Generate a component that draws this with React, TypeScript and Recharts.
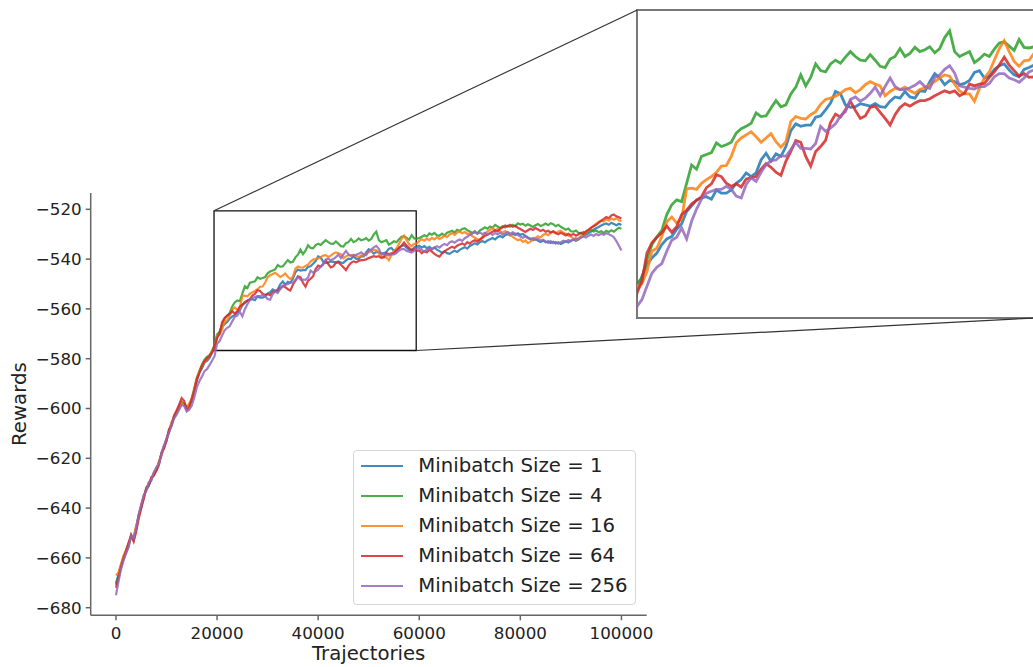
import React from 'react';
import { LineChart, Line, XAxis, YAxis, ReferenceArea, Label } from 'recharts';

// ---------- data ----------
const STEP = 500;
const trajectories: number[] = Array.from({ length: 201 }, (_, i) => i * STEP);

const xTicks = [0, 20000, 40000, 60000, 80000, 100000];
const yTicks = [-680, -660, -640, -620, -600, -580, -560, -540, -520];

const size1 = [
  -670.2, -666.8, -663.0, -660.6, -657.0, -654.2, -651.8, -652.0, -647.6, -642.8,
  -639.0, -635.8, -632.0, -630.2, -628.9, -626.0, -624.8, -621.5, -618.8, -615.0,
  -612.9, -608.6, -606.4, -603.0, -601.8, -599.2, -597.6, -598.2, -599.6, -598.5,
  -596.9, -592.4, -588.9, -585.5, -583.9, -581.6, -580.9, -579.8, -577.6, -576.0,
  -571.3, -569.1, -567.2, -566.1, -565.3, -563.9, -563.0, -562.6, -561.4, -560.5,
  -558.5, -557.6, -556.6, -556.3, -556.1, -556.5, -555.0, -555.5, -555.5, -555.0,
  -553.9, -553.3, -552.2, -552.8, -552.2, -550.1, -549.0, -550.3, -549.1, -549.5,
  -547.9, -545.3, -544.2, -544.6, -544.4, -544.4, -543.1, -542.9, -541.9, -540.8,
  -538.9, -539.3, -541.1, -541.5, -541.4, -540.9, -541.1, -541.3, -540.9, -541.4,
  -541.5, -540.5, -539.8, -540.0, -538.9, -539.8, -540.0, -538.8, -538.9, -537.3,
  -536.0, -536.7, -537.8, -537.1, -537.3, -537.8, -537.6, -537.1, -535.8, -535.5,
  -536.7, -536.4, -535.3, -534.7, -534.4, -535.4, -536.2, -536.5, -535.3, -535.0,
  -534.6, -535.3, -534.8, -535.6, -535.1, -535.9, -535.4, -536.2, -536.8, -537.4,
  -536.9, -537.6, -537.9, -537.2, -536.6, -537.1, -536.3, -535.7, -535.2, -535.8,
  -534.7, -534.2, -533.6, -534.1, -533.2, -532.7, -533.3, -532.5, -532.0, -531.5,
  -532.1, -531.2, -530.7, -531.3, -530.4, -529.9, -530.5, -529.8, -530.3, -529.6,
  -530.2, -529.9, -530.7, -531.3, -531.8, -532.4, -531.9, -532.6, -533.1, -532.5,
  -533.2, -532.8, -533.5, -533.0, -533.7, -533.2, -533.9, -533.4, -532.8, -533.3,
  -532.6, -532.1, -532.7, -531.9, -531.2, -530.6, -530.1, -529.5, -528.9, -528.2,
  -527.6, -527.1, -526.5, -526.0, -525.7, -526.2, -525.4, -525.9, -526.4, -525.8,
  -526.3,
];

const size4 = [
  -670.8, -667.0, -662.8, -659.5, -657.9, -655.4, -650.9, -652.8, -648.5, -643.0,
  -639.8, -635.0, -632.9, -630.8, -628.0, -627.0, -624.0, -621.8, -618.0, -615.9,
  -612.0, -609.4, -605.5, -603.9, -601.0, -599.8, -597.4, -598.0, -599.4, -598.6,
  -595.8, -591.8, -587.6, -584.9, -582.4, -580.5, -579.2, -578.6, -576.8, -574.5,
  -570.2, -569.4, -566.4, -563.9, -562.7, -561.6, -559.0, -557.4, -556.6, -556.9,
  -553.9, -550.9, -551.6, -549.5, -549.2, -548.9, -547.3, -547.9, -547.6, -547.2,
  -545.7, -545.0, -544.6, -544.1, -542.4, -543.0, -542.9, -541.6, -540.4, -541.4,
  -541.1, -539.3, -538.2, -536.2, -538.0, -536.6, -534.4, -535.5, -535.7, -534.4,
  -533.8, -534.3, -533.3, -532.4, -533.2, -533.8, -533.9, -532.9, -533.8, -534.8,
  -535.0, -533.6, -533.2, -531.9, -533.2, -532.7, -531.7, -532.4, -532.1, -531.6,
  -532.6, -531.9, -530.1, -529.0, -532.4, -533.2, -532.8, -532.4, -534.2, -533.6,
  -532.8, -533.2, -532.0, -531.0, -530.8, -531.5, -532.2, -530.4, -531.7, -531.8,
  -531.6, -531.0, -530.4, -530.9, -529.7, -530.2, -529.5, -530.4, -530.6, -529.8,
  -530.5, -529.4, -529.0, -528.6, -529.3, -528.2, -528.7, -527.9, -527.6, -528.4,
  -528.9, -529.5, -528.8, -529.7, -528.5, -527.9, -527.2, -527.8, -526.9, -527.4,
  -526.3, -526.9, -527.5, -526.8, -527.3, -526.6, -527.0, -526.2, -526.8, -525.6,
  -526.1, -525.8, -526.6, -526.0, -526.5, -527.1, -526.4, -525.9, -526.7, -526.3,
  -525.7, -526.4, -525.6, -526.0, -526.8, -526.2, -527.0, -527.6, -528.2, -527.7,
  -528.8, -529.0, -528.5, -529.4, -529.7, -529.1, -529.6, -528.7, -528.3, -528.9,
  -528.5, -529.2, -528.8, -529.5, -528.6, -529.1, -528.4, -529.0, -528.2, -527.4,
  -527.8,
];

const size16 = [
  -667.0, -665.8, -662.5, -659.0, -656.8, -654.5, -651.0, -651.6, -647.0, -643.8,
  -638.8, -635.2, -632.6, -629.8, -628.2, -625.8, -624.6, -621.2, -618.9, -615.2,
  -612.4, -609.2, -605.8, -603.2, -601.9, -599.0, -597.9, -598.6, -599.8, -598.0,
  -596.0, -592.5, -588.0, -585.2, -583.0, -581.2, -580.0, -578.8, -577.2, -575.5,
  -570.7, -570.3, -568.3, -565.0, -564.5, -562.6, -560.2, -559.4, -560.4, -559.7,
  -554.8, -554.7, -554.9, -553.9, -553.3, -552.8, -552.1, -551.1, -551.0, -549.5,
  -547.3, -546.5, -546.0, -545.5, -546.3, -547.2, -546.5, -545.8, -547.1, -548.0,
  -547.1, -543.8, -543.0, -543.3, -543.4, -542.7, -542.2, -541.0, -540.2, -540.0,
  -539.7, -539.2, -538.6, -538.4, -539.1, -538.6, -537.8, -537.3, -537.7, -538.0,
  -539.6, -538.9, -538.4, -538.6, -538.2, -538.8, -539.2, -538.6, -538.3, -537.8,
  -537.3, -536.7, -536.2, -536.4, -537.7, -538.8, -539.3, -539.3, -540.5, -538.4,
  -536.7, -535.7, -533.8, -531.9, -530.6, -532.4, -534.0, -534.8, -533.9, -533.8,
  -532.7, -532.0, -532.6, -531.8, -532.4, -531.5, -532.1, -531.2, -531.9, -531.4,
  -530.6, -531.2, -530.1, -529.5, -530.3, -529.3, -528.9, -529.6, -529.1, -529.9,
  -529.6, -530.8, -531.4, -532.0, -532.4, -531.0, -529.8, -528.9, -528.2, -527.6,
  -528.4, -527.9, -528.8, -529.3, -528.7, -529.5, -530.2, -531.1, -531.8, -532.4,
  -532.0, -533.1, -532.5, -533.6, -533.0, -532.1, -531.4, -530.8, -531.3, -530.3,
  -529.8, -530.4, -529.5, -528.9, -529.6, -529.0, -528.6, -529.4, -529.8, -530.5,
  -531.0, -531.7, -532.3, -531.6, -530.8, -530.1, -529.2, -528.5, -527.4, -526.6,
  -525.8, -525.1, -524.5, -524.9, -524.0, -524.6, -523.7, -524.2, -523.5, -524.4,
  -524.8,
];

const size64 = [
  -672.0, -668.0, -663.8, -660.2, -657.2, -653.8, -650.8, -653.4, -649.5, -644.2,
  -640.0, -636.2, -631.8, -631.0, -627.6, -626.8, -625.0, -622.8, -617.8, -616.0,
  -613.0, -608.4, -606.8, -602.8, -600.8, -598.4, -595.8, -597.0, -600.6, -599.6,
  -596.2, -593.0, -588.2, -585.8, -582.8, -581.0, -579.8, -578.9, -577.5, -575.2,
  -571.8, -569.9, -565.3, -563.6, -562.7, -562.0, -560.9, -561.9, -561.0, -559.0,
  -558.3, -557.3, -556.7, -556.1, -554.6, -554.0, -552.5, -552.8, -553.9, -554.4,
  -554.0, -554.5, -553.2, -553.0, -552.8, -551.6, -550.7, -551.3, -552.1, -552.6,
  -550.3, -548.7, -546.9, -547.2, -549.5, -551.1, -548.7, -547.9, -546.9, -544.0,
  -542.6, -543.1, -541.9, -540.5, -542.0, -543.3, -542.9, -541.5, -541.3, -542.3,
  -543.3, -544.4, -542.7, -541.5, -540.9, -541.3, -540.8, -540.4, -540.4, -540.1,
  -539.6, -539.2, -538.8, -539.1, -538.8, -539.6, -539.2, -537.7, -538.0, -537.7,
  -537.6, -536.6, -535.7, -534.6, -533.3, -534.6, -535.5, -536.4, -536.0, -536.6,
  -536.5, -537.6, -536.8, -537.3, -536.2, -537.0, -537.9, -538.6, -539.0, -537.8,
  -536.9, -536.2, -535.6, -535.0, -535.5, -534.6, -534.1, -533.7, -534.3, -533.2,
  -533.8, -532.9, -532.4, -533.0, -532.1, -531.5, -530.6, -530.2, -529.6, -529.0,
  -528.4, -528.9, -527.8, -527.2, -526.5, -526.9, -526.2, -527.0, -526.6, -527.4,
  -527.9, -528.5, -529.1, -528.4, -527.8, -528.3, -527.5, -528.1, -528.7, -528.2,
  -529.0, -528.6, -529.3, -528.8, -529.5, -530.0, -529.4, -529.9, -530.5, -529.8,
  -530.4, -529.9, -530.6, -530.0, -529.4, -529.9, -528.8, -528.2, -527.4, -526.8,
  -526.2, -525.4, -524.6, -523.8, -523.1, -523.6, -522.5, -522.1, -522.8, -523.2,
  -523.7,
];

const size256 = [
  -675.0, -669.5, -664.5, -661.0, -658.2, -655.6, -651.2, -652.2, -648.2, -642.5,
  -638.6, -634.8, -633.0, -629.6, -628.6, -625.5, -623.6, -622.4, -617.8, -614.8,
  -612.2, -609.8, -607.0, -604.0, -602.5, -600.5, -598.6, -599.0, -601.2, -600.5,
  -598.8, -595.6, -591.5, -589.0, -587.2, -585.0, -584.2, -582.6, -580.8, -579.0,
  -574.0, -572.9, -570.7, -568.6, -567.6, -567.0, -565.0, -563.2, -562.7, -561.2,
  -563.0, -560.1, -558.1, -556.5, -555.5, -555.2, -554.9, -554.9, -554.4, -554.9,
  -556.0, -556.3, -554.1, -553.0, -553.6, -552.1, -550.9, -550.2, -550.1, -549.4,
  -549.5, -548.4, -547.2, -548.2, -548.2, -548.3, -547.4, -544.6, -545.4, -544.9,
  -544.2, -542.9, -542.2, -540.2, -539.8, -540.5, -540.0, -539.2, -538.2, -539.6,
  -538.1, -536.7, -538.1, -538.6, -538.6, -538.3, -537.9, -537.3, -538.1, -538.4,
  -536.6, -536.2, -535.3, -534.7, -535.9, -538.0, -538.2, -538.4, -538.5, -538.1,
  -538.1, -537.6, -536.5, -536.0, -536.0, -536.7, -537.0, -537.4, -536.7, -535.7,
  -535.4, -536.3, -537.0, -536.2, -535.5, -536.1, -535.3, -534.8, -535.4, -534.5,
  -533.9, -534.4, -533.3, -532.8, -533.4, -532.6, -532.1, -532.7, -531.6, -531.0,
  -530.3, -529.7, -529.2, -529.8, -529.3, -530.0, -529.4, -530.1, -529.6, -530.3,
  -529.5, -530.0, -529.4, -530.2, -529.6, -529.1, -529.8, -529.2, -529.7, -530.3,
  -530.9, -531.4, -530.8, -531.6, -532.0, -531.5, -532.3, -531.8, -532.6, -532.2,
  -532.9, -533.5, -532.8, -533.6, -533.1, -533.8, -533.2, -532.6, -533.0, -532.3,
  -532.8, -532.1, -531.6, -532.2, -531.4, -530.9, -531.3, -530.6, -530.1, -530.7,
  -529.9, -530.4, -529.8, -530.2, -529.6, -530.0, -530.5, -531.2, -532.8, -534.6,
  -536.5,
];

const seriesNames = [
  'Minibatch Size = 1',
  'Minibatch Size = 4',
  'Minibatch Size = 16',
  'Minibatch Size = 64',
  'Minibatch Size = 256',
];
const seriesColors = ['#1f77b4', '#2ca02c', '#ff7f0e', '#d62728', '#9467bd'];
const seriesValues = [size1, size4, size16, size64, size256];
const seriesKeys = ['s1', 's4', 's16', 's64', 's256'];

const data = trajectories.map((t, i) => {
  const row: Record<string, number> = { t };
  seriesKeys.forEach((k, j) => {
    row[k] = seriesValues[j][i];
  });
  return row;
});

// zoom window
const zoomX = [20000, 60000];
const zoomY = [-575.9, -525.6];
const markX = [19400, 59400];
const markY = [-576.7, -520.6];
const insetData = data.filter((r) => r.t >= zoomX[0] - STEP && r.t <= zoomX[1] + STEP);

// ---------- layout ----------
const FONT = '"DejaVu Sans", "Liberation Sans", sans-serif';
const TEXT = '#222';
const SPINE = '#666';
const X_DOMAIN: [number, number] = [-5000, 105000];
const Y_DOMAIN: [number, number] = [-683.05, -513.45];

const CHART_W = 660;
const CHART_H = 667;
const PLOT_L = 90.7;
const PLOT_T = 193;
const PLOT_R = 646.7;
const PLOT_B = 615.3;

const INSET_L = 637.3;
const INSET_T = 10;
const INSET_R = 1034.3;
const INSET_B = 318;
const INSET_PAD = 2;

const mainX = (t: number) => PLOT_L + ((t - X_DOMAIN[0]) / (X_DOMAIN[1] - X_DOMAIN[0])) * (PLOT_R - PLOT_L);
const mainY = (v: number) => PLOT_B - ((v - Y_DOMAIN[0]) / (Y_DOMAIN[1] - Y_DOMAIN[0])) * (PLOT_B - PLOT_T);

const fmt = (v: number) => (v < 0 ? '\u2212' + Math.abs(v) : String(v));

const App = () => {
  return (
    <div
      style={{
        position: 'absolute',
        left: 0,
        top: 0,
        width: 1033,
        height: 667,
        overflow: 'hidden',
        background: '#fff',
        fontFamily: FONT,
      }}
    >
      {/* main chart */}
      <div style={{ position: 'absolute', left: 0, top: 0 }}>
        <LineChart
          width={CHART_W}
          height={CHART_H}
          data={data}
          margin={{ top: PLOT_T, right: CHART_W - PLOT_R, bottom: 0, left: 0 }}
        >
          <XAxis
            dataKey="t"
            type="number"
            domain={X_DOMAIN}
            allowDataOverflow
            ticks={xTicks}
            height={CHART_H - PLOT_B}
            tickSize={5}
            tickMargin={6.8}
            tick={{ fontSize: 16.7, fill: TEXT, fontFamily: FONT }}
            axisLine={{ stroke: SPINE, strokeWidth: 1.5 }}
            tickLine={{ stroke: SPINE, strokeWidth: 1.5 }}
          >
            <Label
              content={() => (
                <text
                  x={(PLOT_L + PLOT_R) / 2}
                  y={660}
                  textAnchor="middle"
                  fontSize={19.7}
                  fill={TEXT}
                  fontFamily={FONT}
                >
                  Trajectories
                </text>
              )}
            />
          </XAxis>
          <YAxis
            type="number"
            domain={Y_DOMAIN}
            allowDataOverflow
            ticks={yTicks}
            width={PLOT_L}
            tickSize={5}
            tickMargin={4}
            tickFormatter={fmt}
            tick={{ fontSize: 16.7, fill: TEXT, fontFamily: FONT }}
            axisLine={{ stroke: SPINE, strokeWidth: 1.5 }}
            tickLine={{ stroke: SPINE, strokeWidth: 1.5 }}
          >
            <Label
              content={() => {
                const cy = (PLOT_T + PLOT_B) / 2;
                return (
                  <text
                    x={26.5}
                    y={cy}
                    transform={`rotate(-90 26.5 ${cy})`}
                    textAnchor="middle"
                    fontSize={19.7}
                    fill={TEXT}
                    fontFamily={FONT}
                  >
                    Rewards
                  </text>
                );
              }}
            />
          </YAxis>
          {seriesKeys.map((k, j) => (
            <Line
              key={k}
              dataKey={k}
              name={seriesNames[j]}
              type="linear"
              stroke={seriesColors[j]}
              strokeOpacity={0.85}
              strokeWidth={2.2}
              dot={false}
              activeDot={false}
              isAnimationActive={false}
            />
          ))}
          <ReferenceArea
            x1={markX[0]}
            x2={markX[1]}
            y1={markY[0]}
            y2={markY[1]}
            fill="none"
            fillOpacity={0}
            stroke="#111"
            strokeWidth={1.3}
            ifOverflow="visible"
          />
        </LineChart>
      </div>

      {/* inset */}
      <div style={{ position: 'absolute', left: INSET_L - INSET_PAD, top: INSET_T - INSET_PAD }}>
        <LineChart
          width={INSET_R - INSET_L + 2 * INSET_PAD}
          height={INSET_B - INSET_T + 2 * INSET_PAD}
          data={insetData}
          margin={{ top: INSET_PAD, right: INSET_PAD, bottom: INSET_PAD, left: INSET_PAD }}
        >
          <XAxis dataKey="t" type="number" domain={zoomX} allowDataOverflow hide />
          <YAxis type="number" domain={zoomY} allowDataOverflow hide />
          {seriesKeys.map((k, j) => (
            <Line
              key={k}
              dataKey={k}
              type="linear"
              stroke={seriesColors[j]}
              strokeOpacity={0.85}
              strokeWidth={2.8}
              dot={false}
              activeDot={false}
              isAnimationActive={false}
            />
          ))}
          <ReferenceArea
            x1={zoomX[0]}
            x2={zoomX[1]}
            y1={zoomY[0]}
            y2={zoomY[1]}
            fill="none"
            fillOpacity={0}
            stroke="#777"
            strokeWidth={2}
            ifOverflow="visible"
          />
        </LineChart>
      </div>

      {/* connector lines */}
      <svg
        width={1033}
        height={667}
        style={{ position: 'absolute', left: 0, top: 0, pointerEvents: 'none' }}
      >
        <line
          x1={mainX(markX[0])}
          y1={mainY(markY[1])}
          x2={INSET_L}
          y2={INSET_T}
          stroke="#333"
          strokeWidth={1.2}
        />
        <line
          x1={mainX(markX[1])}
          y1={mainY(markY[0])}
          x2={INSET_R}
          y2={INSET_B}
          stroke="#333"
          strokeWidth={1.2}
        />
      </svg>

      {/* legend */}
      <div
        style={{
          position: 'absolute',
          left: 353.3,
          top: 450,
          width: 282.7,
          height: 155,
          boxSizing: 'border-box',
          border: '1px solid #d6d6d6',
          borderRadius: 4,
          background: 'rgba(255,255,255,0.8)',
        }}
      >
        {seriesNames.map((n, j) => (
          <div
            key={n}
            style={{
              position: 'absolute',
              left: 0,
              top: 15 + j * 30 - 15,
              height: 30,
              width: '100%',
            }}
          >
            <div
              style={{
                position: 'absolute',
                left: 6.7,
                top: 14,
                width: 42,
                height: 2,
                background: seriesColors[j],
                opacity: 0.85,
              }}
            />
            <div
              style={{
                position: 'absolute',
                left: 64,
                top: 0,
                height: 30,
                lineHeight: '30px',
                fontSize: 19.7,
                color: TEXT,
                whiteSpace: 'nowrap',
                fontFamily: FONT,
              }}
            >
              {n}
            </div>
          </div>
        ))}
      </div>
    </div>
  );
};

export default App;
